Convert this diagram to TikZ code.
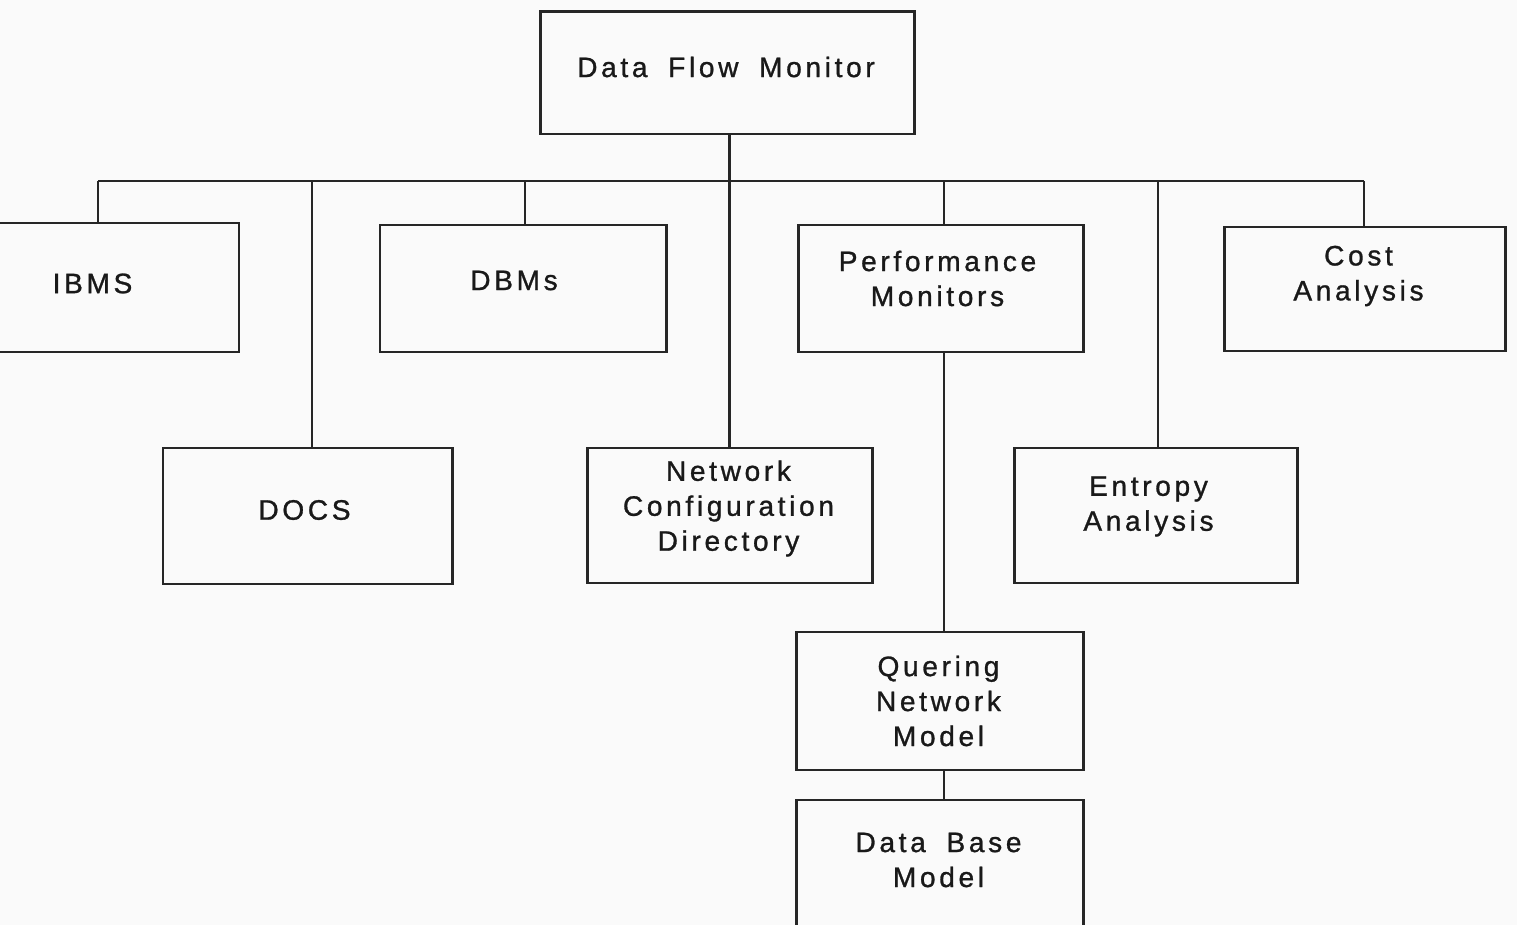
\documentclass[tikz,border=0pt]{standalone}
\usepackage{fontspec}
\setmainfont[LetterSpace=13,WordSpace=1.8,FakeBold=1]{Liberation Sans}
\begin{document}
\begin{tikzpicture}[x=0.02cm,y=-0.02cm,
  box/.style={draw=black!85,line width=1.7pt,fill=none,inner sep=0pt},
  txt/.style={align=center,font=\fontsize{16}{19.9}\selectfont,inner sep=0pt,text=black!90},
  conn/.style={draw=black!85,line width=1.3pt}]
\fill[black!2] (0,0) rectangle (1517,925);
\useasboundingbox (0,0) rectangle (1517,925);
\node[box,minimum width=374*0.02cm,minimum height=122*0.02cm,
  label={[txt,xshift=-1*0.02cm,yshift=6*0.02cm]center:Data Flow Monitor}] (dfm) at (727,73) {};
\node[box,minimum width=249*0.02cm,minimum height=129*0.02cm,
  label={[txt,xshift=-22*0.02cm,yshift=4*0.02cm]center:IBMS}] (ibms) at (114.5,287.5) {};
\node[box,minimum width=286*0.02cm,minimum height=127*0.02cm,
  label={[txt,xshift=-9*0.02cm,yshift=8*0.02cm]center:DBMs}] (dbms) at (523,288.5) {};
\node[box,minimum width=285*0.02cm,minimum height=127*0.02cm,
  label={[txt,xshift=-3*0.02cm,yshift=10*0.02cm]center:Performance\\Monitors}] (perf) at (940.5,288.5) {};
\node[box,minimum width=281*0.02cm,minimum height=124*0.02cm,
  label={[txt,xshift=-6*0.02cm,yshift=13*0.02cm]center:Cost\\Analysis}] (cost) at (1364.5,289) {};
\node[box,minimum width=289*0.02cm,minimum height=136*0.02cm,
  label={[txt,xshift=-3*0.02cm,yshift=6*0.02cm]center:DOCS}] (docs) at (307.5,516) {};
\node[box,minimum width=285*0.02cm,minimum height=135*0.02cm,
  label={[txt,xshift=-1*0.02cm,yshift=7*0.02cm]center:Network\\Configuration\\Directory}] (ncd) at (729.5,515.5) {};
\node[box,minimum width=283*0.02cm,minimum height=135*0.02cm,
  label={[txt,xshift=-7*0.02cm,yshift=9*0.02cm]center:Entropy\\Analysis}] (ent) at (1155.5,515.5) {};
\node[box,minimum width=287*0.02cm,minimum height=138*0.02cm,
  label={[txt,xshift=-1*0.02cm,yshift=0*0.02cm]center:Quering\\Network\\Model}] (qnm) at (939.5,701) {};
\node[box,minimum width=287*0.02cm,minimum height=140*0.02cm,
  label={[txt,xshift=-1*0.02cm,yshift=10*0.02cm]center:Data Base\\Model}] (dbm) at (939.5,870) {};
\coordinate (busL) at (98,181);
\coordinate (busR) at (1364,181);
\draw[conn] (busL) -- (busR);
\draw[conn] (ncd.north) -- (ncd.north |- dfm.south);
\draw[conn] (busL) -- (busL |- ibms.north);
\draw[conn] (docs.north -| 312,0) -- (312,181);
\draw[conn] (dbms.north -| 525,0) -- (525,181);
\draw[conn] (perf.north -| 944,0) -- (944,181);
\draw[conn] (ent.north -| 1158,0) -- (1158,181);
\draw[conn] (busR) -- (busR |- cost.north);
\draw[conn] (perf.south -| 944,0) -- (qnm.north -| 944,0);
\draw[conn] (qnm.south -| 944,0) -- (dbm.north -| 944,0);
\end{tikzpicture}
\end{document}
